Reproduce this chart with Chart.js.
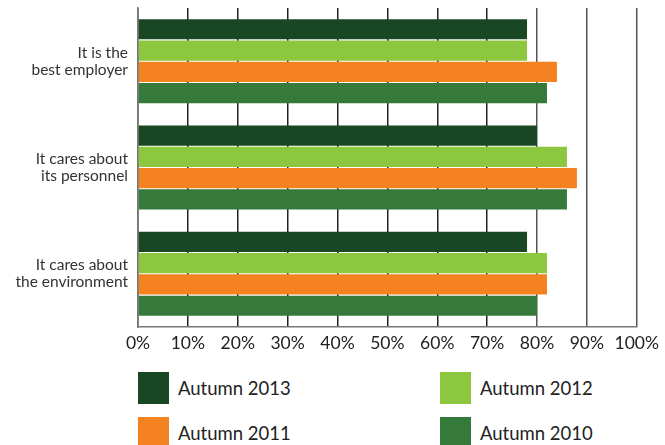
<!DOCTYPE html>
<html lang="en">
<head>
<meta charset="UTF-8">
<title>Employer image</title>
<script src="https://cdn.jsdelivr.net/npm/chart.js"></script>
<style>
  html, body { margin: 0; padding: 0; background: #fff; }
  #wrap { width: 665px; height: 445px; position: relative; overflow: hidden; }
  #chartBox { width: 665px; height: 360px; }
  #legend { position: absolute; left: 138px; top: 372px; display: grid;
            grid-template-columns: 302px 200px; row-gap: 13px;
            font-family: Lato, sans-serif; font-size: 18.5px; color: #222; }
  .item { display: flex; align-items: center; height: 32px; }
  .swatch { width: 31px; height: 32px; margin-right: 9px; }
</style>
</head>
<body>
<div id="wrap">
  <div id="chartBox"><canvas id="chart"></canvas></div>
  <div id="legend"></div>
</div>
<script>
  // categories (multi-line labels)
  const categories = [
    ['It is the', 'best employer'],
    ['It cares about', 'its personnel'],
    ['It cares about', 'the environment']
  ];
  const seriesNames = ['Autumn 2013', 'Autumn 2012', 'Autumn 2011', 'Autumn 2010'];
  const seriesColors = ['#1a4723', '#8dc63f', '#f58220', '#367a3b'];
  const autumn2013 = [78, 80, 78];
  const autumn2012 = [78, 86, 82];
  const autumn2011 = [84, 88, 82];
  const autumn2010 = [82, 86, 80];
  const seriesValues = [autumn2013, autumn2012, autumn2011, autumn2010];

  const datasets = seriesNames.map((name, i) => ({
    label: name,
    data: seriesValues[i],
    backgroundColor: seriesColors[i],
    borderWidth: 0,
    barPercentage: 0.95,
    categoryPercentage: 0.8
  }));

  new Chart(document.getElementById('chart'), {
    type: 'bar',
    data: { labels: categories, datasets: datasets },
    options: {
      indexAxis: 'y',
      responsive: true,
      maintainAspectRatio: false,
      animation: false,
      layout: { padding: { top: 8, right: 28, left: 0, bottom: 0 } },
      plugins: { legend: { display: false }, tooltip: { enabled: false } },
      scales: {
        x: {
          min: 0, max: 100,
          ticks: {
            stepSize: 10,
            autoSkip: false,
            maxRotation: 0,
            minRotation: 0,
            callback: v => v + '%',
            color: '#222',
            padding: 6,
            font: { family: 'Lato', size: 17.5 }
          },
          grid: {
            color: ctx => (ctx.tick && ctx.tick.value >= 80) ? '#555' : '#222',
            lineWidth: 1.5,
            drawTicks: false
          },
          border: { color: '#777', width: 1.5 }
        },
        y: {
          afterFit: scale => {
            scale.width = 138;
            // the two-line labels sit mid-category, no extra room needed
            scale.paddingTop = 0;
            scale.paddingBottom = 0;
          },
          ticks: {
            color: '#333',
            padding: 10,
            font: { family: 'Lato', size: 15.5, lineHeight: 1.1 }
          },
          grid: { display: false, drawTicks: false },
          border: { color: '#777', width: 1.5 }
        }
      }
    }
  });

  // two-column legend
  const legend = document.getElementById('legend');
  seriesNames.forEach((name, i) => {
    const item = document.createElement('div');
    item.className = 'item';
    item.innerHTML = '<span class="swatch" style="background:' + seriesColors[i] + '"></span>' + name;
    legend.appendChild(item);
  });
</script>
</body>
</html>
